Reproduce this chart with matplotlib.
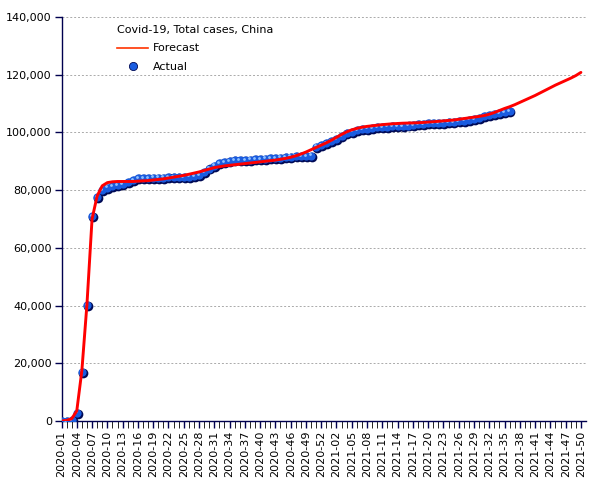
import numpy as np
import matplotlib
matplotlib.use("Agg")
import matplotlib.pyplot as plt
import matplotlib.transforms as mtransforms
from matplotlib.lines import Line2D
from matplotlib.ticker import FuncFormatter

# Weekly categories: 2020-01 .. 2020-53, 2021-01 .. 2021-50
weeks = ["2020-%02d" % w for w in range(1, 54)] + ["2021-%02d" % w for w in range(1, 51)]

# Actual cumulative cases (2020-01 .. 2021-36)
actual = [
    0, 40, 300, 2900, 17100, 40200, 71000, 77500, 80000, 80900,
    81300, 81700, 82100, 82800, 83600, 84100, 84200, 84200, 84300, 84300,
    84350, 84400, 84450, 84500, 84600, 84700, 84800, 85200, 86200, 87500,
    88500, 89300, 89800, 90100, 90300, 90400, 90500, 90600, 90700, 90800,
    90900, 91000, 91100, 91300, 91500, 91600, 91700, 91800, 91900, 91950,
    95100, 95600, 96200, 96900, 97700, 98700, 99800, 100300, 100700, 101100,
    101300, 101600, 101800, 101900, 102000, 102100, 102200, 102300, 102400, 102600,
    102800, 103000, 103100, 103200, 103300, 103400, 103500, 103700, 103900, 104100,
    104400, 104700, 105100, 105600, 106100, 106500, 106800, 107100, 107400,
]

# Forecast (2020-01 .. 2021-50)
forecast = [
    0, 200, 800, 3500, 17500, 40500, 70000, 78000, 81500, 82600,
    82900, 83000, 83000, 83000, 83000, 83100, 83200, 83300, 83500, 83700,
    83900, 84200, 84500, 84800, 85100, 85500, 85900, 86300, 86800, 87300,
    87800, 88100, 88400, 88600, 88800, 89000, 89200, 89400, 89600, 89800,
    90000, 90200, 90400, 90700, 91000, 91400, 91900, 92500, 93200, 94000,
    94800, 95600, 96400, 97300, 98300, 99300, 100200, 100900, 101400, 101800,
    102100, 102300, 102500, 102700, 102850, 103000, 103100, 103200, 103250, 103300,
    103350, 103450, 103600, 103700, 103850, 104000, 104150, 104300, 104550, 104800,
    105050, 105300, 105550, 105850, 106300, 106900, 107600, 108300, 108900, 109600,
    110400, 111200, 112000, 112800, 113700, 114600, 115500, 116400, 117200, 118000,
    118800, 119700, 120800,
]

plt.rcParams['font.family'] = 'DejaVu Sans'

fig = plt.figure(figsize=(6.05, 4.8), dpi=100)
ax = fig.add_axes([61.5 / 605, 1 - 421 / 480, (586 - 61.5) / 605, (421 - 17) / 480])

x_all = np.arange(len(weeks))
x_act = x_all[:len(actual)]

navy = '#00004f'

# ball markers: dark shadow, blue body, small highlight
shadow = mtransforms.offset_copy(ax.transData, fig=fig, x=0.6, y=-0.7, units='points')
hilite = mtransforms.offset_copy(ax.transData, fig=fig, x=-0.9, y=0.9, units='points')
ax.plot(x_act, actual, 'o', ms=7.0, color='#000a55', mec='none', transform=shadow, zorder=3)
ax.plot(x_act, actual, 'o', ms=5.9, color='#1a5ce0', mec='none', zorder=4)
ax.plot(x_act, actual, 'o', ms=2.0, color='#8fc0ff', mec='none', transform=hilite, zorder=5)

ax.plot(x_all, forecast, color='#ff0000', lw=2.1, zorder=6, solid_capstyle='round')

ax.set_xlim(0, 103.0)
ax.set_ylim(0, 140000)
ax.set_yticks(np.arange(0, 140001, 20000))
ax.yaxis.set_major_formatter(FuncFormatter(lambda v, p: f"{int(v):,}"))
ax.set_xticks(x_all[::3])
ax.set_xticklabels(weeks[::3], rotation=90)
ax.set_xticks(x_all, minor=True)

ax.grid(axis='y', color='#aaaaaa', linestyle=(0, (2, 2)), linewidth=0.7)
ax.set_axisbelow(True)
for s in ['top', 'right']:
    ax.spines[s].set_visible(False)
for s in ['left', 'bottom']:
    ax.spines[s].set_color(navy)
    ax.spines[s].set_linewidth(1.0)
ax.tick_params(axis='both', colors=navy, labelcolor='black', labelsize=8, width=1.0)
ax.tick_params(axis='x', which='major', length=5, pad=2)
ax.tick_params(axis='x', which='minor', length=5)
ax.tick_params(axis='y', length=5, pad=2)

handles = [
    Line2D([], [], color='#ff3300', lw=1.2),
    Line2D([], [], marker='o', ls='none', ms=5.9, color='#1a5ce0', mec='#000a55', mew=0.6),
]
leg = ax.legend(handles, ['Forecast', 'Actual'], title='Covid-19, Total cases, China',
                loc='upper left', bbox_to_anchor=(0.106, 0.98), frameon=False,
                fontsize=8, title_fontsize=8, borderpad=0, handlelength=2.8,
                handletextpad=0.4, labelspacing=0.75, borderaxespad=0)
leg._legend_box.align = 'left'

fig.savefig('out.png', dpi=100)
